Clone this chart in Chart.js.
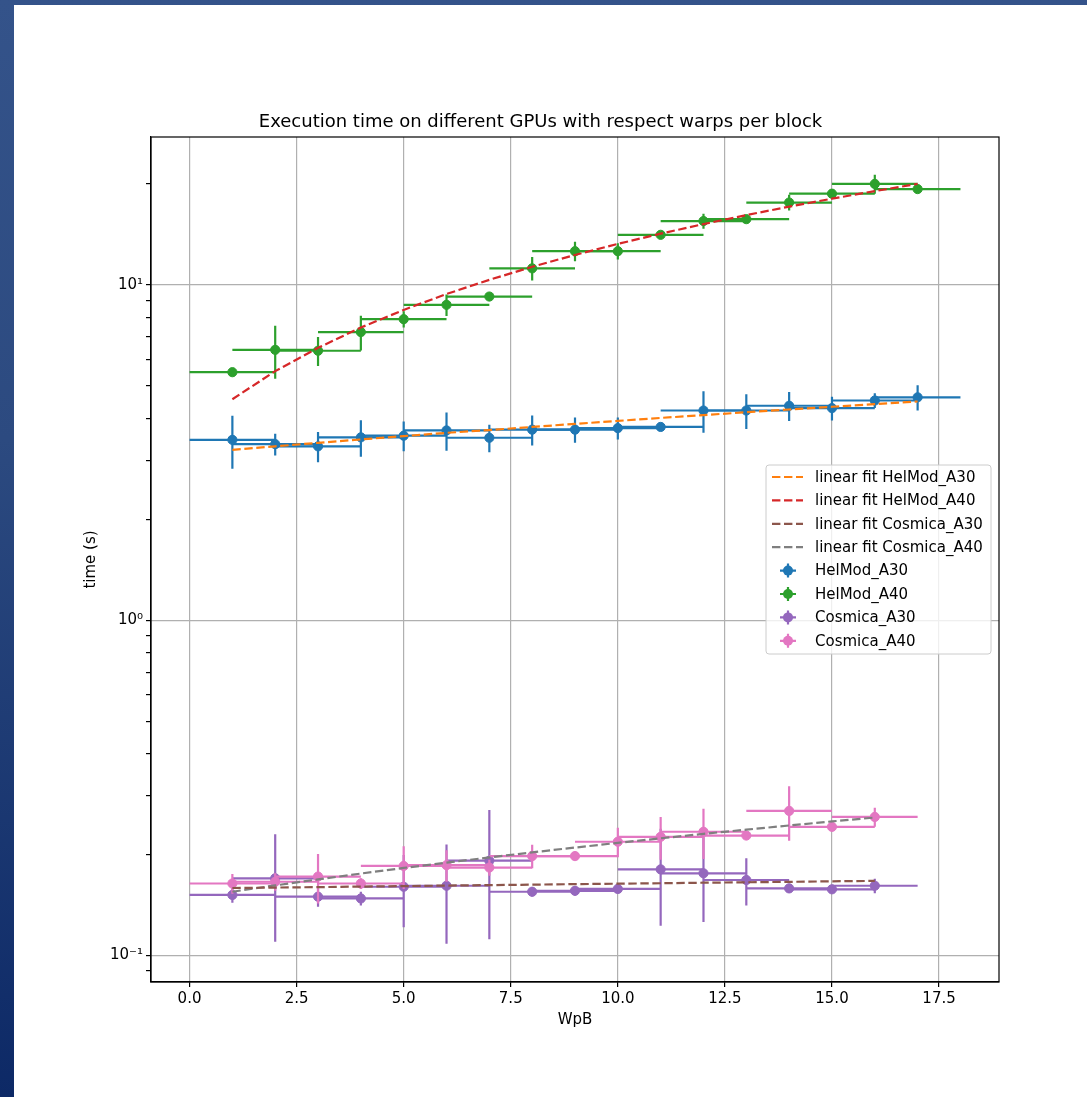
<!DOCTYPE html>
<html>
<head>
<meta charset="utf-8">
<script src="https://cdn.jsdelivr.net/npm/chart.js@4.4.1/dist/chart.umd.min.js"></script>
<style>
html, body { margin: 0; padding: 0; }
body { width: 1087px; height: 1097px; overflow: hidden; position: relative;
  background: linear-gradient(to bottom, #34538a, #2c4a80 40%, #0d2966); }
#panel { position: absolute; left: 14px; top: 5px; right: 0; bottom: 0; background: #fff; }
#graph { position: absolute; left: 0; top: 0; }
</style>
</head>
<body>
<div id="panel"></div>
<canvas id="graph" width="1087" height="1097"></canvas>
<script>
// warps per block
const wpbHelMod = [1, 2, 3, 4, 5, 6, 7, 8, 9, 10, 11, 12, 13, 14, 15, 16, 17];
const wpbCosmica = [1, 2, 3, 4, 5, 6, 7, 8, 9, 10, 11, 12, 13, 14, 15, 16];
const wpbErrHelMod = [1, 1, 1, 1, 1, 1, 1, 1, 1, 1, 1, 1, 1, 1, 1, 1, 1];
const wpbErrCosmica = [1, 1, 1, 1, 1, 1, 1, 1, 1, 1, 1, 1, 1, 1, 1, 1];

// times (s)
const helmodA30 = [3.45, 3.35, 3.30, 3.51, 3.55, 3.68, 3.50, 3.70, 3.70, 3.74, 3.77, 4.22, 4.22, 4.36, 4.29, 4.52, 4.62];
const helmodA30Err = [0.62, 0.25, 0.34, 0.44, 0.36, 0.48, 0.33, 0.38, 0.32, 0.28, 0.06, 0.60, 0.50, 0.43, 0.35, 0.23, 0.40];
const helmodA40 = [5.49, 6.40, 6.36, 7.23, 7.90, 8.72, 9.23, 11.2, 12.6, 12.6, 14.1, 15.5, 15.7, 17.6, 18.7, 20.0, 19.3];
const helmodA40Err = [0.15, 1.15, 0.63, 0.86, 0.44, 0.64, 0.20, 0.90, 0.85, 0.70, 0.20, 0.80, 0.30, 0.95, 0.60, 1.30, 0.30];
const cosmicaA30 = [0.1516, 0.170, 0.1498, 0.148, 0.1604, 0.1615, 0.1918, 0.155, 0.156, 0.158, 0.1807, 0.1759, 0.168, 0.1586, 0.1576, 0.1615];
const cosmicaA30Err = [0.008, 0.060, 0.010, 0.007, 0.039, 0.053, 0.080, 0.005, 0.005, 0.004, 0.058, 0.050, 0.027, 0.005, 0.004, 0.008];
const cosmicaA40 = [0.164, 0.166, 0.172, 0.164, 0.185, 0.186, 0.183, 0.198, 0.198, 0.2185, 0.226, 0.234, 0.228, 0.270, 0.242, 0.259];
const cosmicaA40Err = [0.011, 0.010, 0.029, 0.006, 0.027, 0.020, 0.010, 0.016, 0.005, 0.022, 0.033, 0.040, 0.005, 0.050, 0.005, 0.017];

// linear fits
const fitHelmodA30 = [3.22, 3.30, 3.38, 3.46, 3.54, 3.62, 3.69, 3.77, 3.85, 3.93, 4.01, 4.09, 4.17, 4.25, 4.33, 4.41, 4.49];
const fitHelmodA40 = [4.56, 5.53, 6.49, 7.46, 8.42, 9.39, 10.35, 11.32, 12.28, 13.25, 14.21, 15.18, 16.14, 17.11, 18.07, 19.04, 20.0];
const fitCosmicaA30 = [0.159, 0.1595, 0.160, 0.1606, 0.1611, 0.1617, 0.1622, 0.1627, 0.1633, 0.1638, 0.1643, 0.1649, 0.1654, 0.1659, 0.1665, 0.167];
const fitCosmicaA40 = [0.155, 0.1619, 0.1687, 0.1756, 0.1825, 0.1893, 0.1962, 0.2031, 0.2099, 0.2168, 0.2237, 0.2306, 0.2374, 0.2443, 0.2512, 0.258];

const FONT = 'DejaVu Sans';
const sup = { '-1': '\u207B\u00B9', '0': '\u2070', '1': '\u00B9' };

function pts(xs, ys) {
    return ys.map((v, i) => ({ x: xs[i], y: v }));
}

function isDecade(v) {
    const e = Math.log10(v);
    return Math.abs(e - Math.round(e)) < 1e-6;
}
function isLogTick(v) {
    const e = Math.floor(Math.log10(v) + 1e-9);
    const s = v / Math.pow(10, e);
    return Math.abs(s - Math.round(s)) < 1e-6;
}

function fitSet(label, xs, ys, color) {
    return {
        label: label, data: pts(xs, ys), showLine: true, borderColor: color,
        borderWidth: 2.2, borderDash: [8.4, 3.6], pointRadius: 0, order: 0, fill: false
    };
}
function errSet(label, xs, ys, xerr, yerr, color, order) {
    return {
        label: label, data: pts(xs, ys), errX: xerr, errY: yerr, showLine: false,
        backgroundColor: color, borderColor: color, pointRadius: 4.6, pointBorderWidth: 1,
        order: order
    };
}

// errorbars drawn right before each marker dataset
const errorBars = {
    id: 'errorBars',
    beforeDatasetDraw(chart, args) {
        const ds = chart.data.datasets[args.index];
        if (!ds.errY) return;
        const ctx = chart.ctx;
        const x = chart.scales.x, y = chart.scales.y;
        ctx.save();
        ctx.strokeStyle = ds.borderColor;
        ctx.lineWidth = 2.2;
        ds.data.forEach((p, i) => {
            const px = x.getPixelForValue(p.x), py = y.getPixelForValue(p.y);
            ctx.beginPath();
            ctx.moveTo(x.getPixelForValue(p.x - ds.errX[i]), py);
            ctx.lineTo(x.getPixelForValue(p.x + ds.errX[i]), py);
            ctx.moveTo(px, y.getPixelForValue(p.y - ds.errY[i]));
            ctx.lineTo(px, y.getPixelForValue(p.y + ds.errY[i]));
            ctx.stroke();
        });
        ctx.restore();
    }
};

// top and right spines
const frame = {
    id: 'frame',
    afterDraw(chart) {
        const a = chart.chartArea, ctx = chart.ctx;
        ctx.save();
        ctx.strokeStyle = '#000';
        ctx.lineWidth = 1.2;
        ctx.strokeRect(a.left, a.top, a.right - a.left, a.bottom - a.top);
        ctx.restore();
    }
};

// matplotlib style legend, centre right
const legendBox = {
    id: 'legendBox',
    afterDraw(chart) {
        const a = chart.chartArea, ctx = chart.ctx;
        const sets = chart.data.datasets;
        const w = 225, h = 189, row = 23.4;
        const left = a.right - 8 - w;
        const top = (a.top + a.bottom) / 2 - h / 2;
        ctx.save();
        ctx.beginPath();
        ctx.roundRect(left, top, w, h, 3);
        ctx.fillStyle = 'rgba(255,255,255,0.8)';
        ctx.fill();
        ctx.strokeStyle = '#cccccc';
        ctx.lineWidth = 1;
        ctx.stroke();
        ctx.font = '15px "' + FONT + '"';
        ctx.textBaseline = 'middle';
        // fits first, then errorbars (matplotlib order)
        const ordered = sets.filter(s => !s.errY).concat(sets.filter(s => s.errY));
        ordered.forEach((s, i) => {
            const cy = top + 12 + i * row;
            ctx.strokeStyle = s.borderColor;
            ctx.lineWidth = 2.2;
            if (!s.errY) {
                ctx.setLineDash([8.4, 3.6]);
                ctx.beginPath();
                ctx.moveTo(left + 6, cy);
                ctx.lineTo(left + 37, cy);
                ctx.stroke();
                ctx.setLineDash([]);
            } else {
                const cx = left + 22;
                ctx.beginPath();
                ctx.moveTo(cx - 8, cy); ctx.lineTo(cx + 8, cy);
                ctx.moveTo(cx, cy - 7); ctx.lineTo(cx, cy + 7);
                ctx.stroke();
                ctx.beginPath();
                ctx.arc(cx, cy, 5, 0, Math.PI * 2);
                ctx.fillStyle = s.backgroundColor;
                ctx.fill();
            }
            ctx.fillStyle = '#000';
            ctx.fillText(s.label, left + 49, cy + 1);
        });
        ctx.restore();
    }
};

const canvas = document.getElementById('graph').getContext('2d');
const gpuChart = new Chart(canvas, {
    type: 'scatter',
    data: {
        datasets: [
            fitSet('linear fit HelMod_A30', wpbHelMod, fitHelmodA30, '#ff7f0e'),
            fitSet('linear fit HelMod_A40', wpbHelMod, fitHelmodA40, '#d62728'),
            fitSet('linear fit Cosmica_A30', wpbCosmica, fitCosmicaA30, '#8c564b'),
            fitSet('linear fit Cosmica_A40', wpbCosmica, fitCosmicaA40, '#7f7f7f'),
            errSet('HelMod_A30', wpbHelMod, helmodA30, wpbErrHelMod, helmodA30Err, '#1f77b4', 4),
            errSet('HelMod_A40', wpbHelMod, helmodA40, wpbErrHelMod, helmodA40Err, '#2ca02c', 3),
            errSet('Cosmica_A30', wpbCosmica, cosmicaA30, wpbErrCosmica, cosmicaA30Err, '#9467bd', 2),
            errSet('Cosmica_A40', wpbCosmica, cosmicaA40, wpbErrCosmica, cosmicaA40Err, '#e377c2', 1)
        ]
    },
    options: {
        responsive: false,
        animation: false,
        events: [],
        layout: { padding: { left: 82, right: 88, top: 111.2, bottom: 68 } },
        plugins: {
            legend: { display: false },
            tooltip: { enabled: false },
            title: {
                display: true,
                text: 'Execution time on different GPUs with respect warps per block',
                color: '#000',
                font: { family: FONT, size: 18, weight: 'normal' },
                padding: { top: 0, bottom: 4.2 }
            }
        },
        scales: {
            x: {
                type: 'linear',
                min: -0.9, max: 18.9,
                afterFit: s => { s.height = 47; },
                ticks: {
                    stepSize: 2.5, includeBounds: false, color: '#000', padding: 3,
                    font: { family: FONT, size: 15 },
                    callback: v => v.toFixed(1)
                },
                grid: { color: '#b0b0b0', lineWidth: 1.2, tickLength: 5, tickColor: '#000', tickWidth: 1.2 },
                border: { color: '#000', width: 1.2 },
                title: { display: true, text: 'WpB', color: '#000', padding: 0, font: { family: FONT, size: 15 } }
            },
            y: {
                type: 'logarithmic',
                min: 0.0834, max: 27.6,
                afterFit: s => { s.width = 69; },
                ticks: {
                    autoSkip: false, color: '#000', padding: 3,
                    font: { family: FONT, size: 15 },
                    callback: v => isDecade(v) ? '10' + sup[String(Math.round(Math.log10(v)))] : ''
                },
                grid: {
                    lineWidth: 1.2, tickLength: 5, tickWidth: 1.2,
                    color: c => (c.tick && isDecade(c.tick.value)) ? '#b0b0b0' : 'rgba(0,0,0,0)',
                    tickColor: c => (c.tick && isLogTick(c.tick.value)) ? '#000' : 'rgba(0,0,0,0)'
                },
                border: { color: '#000', width: 1.2 },
                title: { display: true, text: 'time (s)', color: '#000', padding: 0, font: { family: FONT, size: 15 } }
            }
        }
    },
    plugins: [errorBars, frame, legendBox]
});
</script>
</body>
</html>
